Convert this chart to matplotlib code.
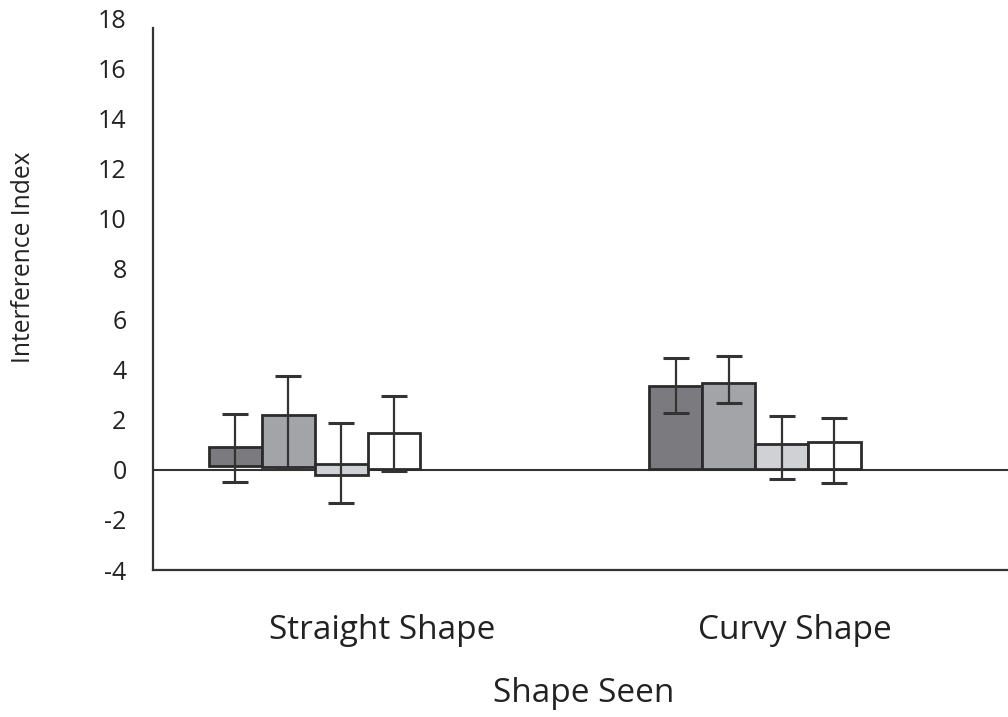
import matplotlib
matplotlib.use("Agg")
import matplotlib.pyplot as plt
import numpy as np
from matplotlib import font_manager

# ---- data ----
categories = ["Straight Shape", "Curvy Shape"]
yticks = [-4, -2, 0, 2, 4, 6, 8, 10, 12, 14, 16, 18]

s1_top = [0.92, 3.32]
s1_bottom = [0.16, 0.04]
s1_err_lo = [-0.48, 2.24]
s1_err_hi = [2.20, 4.44]

s2_top = [2.16, 3.44]
s2_bottom = [0.10, 0.04]
s2_err_lo = [0.08, 2.64]
s2_err_hi = [3.72, 4.52]

s3_top = [0.24, 1.04]
s3_bottom = [-0.20, 0.04]
s3_err_lo = [-1.32, -0.36]
s3_err_hi = [1.84, 2.12]

s4_top = [1.48, 1.12]
s4_bottom = [0.04, 0.04]
s4_err_lo = [-0.04, -0.52]
s4_err_hi = [2.92, 2.04]

series = [
    (s1_top, s1_bottom, s1_err_lo, s1_err_hi, "#7b7b7f"),
    (s2_top, s2_bottom, s2_err_lo, s2_err_hi, "#a2a4a8"),
    (s3_top, s3_bottom, s3_err_lo, s3_err_hi, "#d0d1d5"),
    (s4_top, s4_bottom, s4_err_lo, s4_err_hi, "#ffffff"),
]

# ---- fonts ----
avail = {f.name for f in font_manager.fontManager.ttflist}
main_font = "Open Sans" if "Open Sans" in avail else "DejaVu Sans"
plt.rcParams['font.family'] = [main_font, 'DejaVu Sans']

fig = plt.figure(figsize=(10.08, 7.17), dpi=100)
ax = fig.add_axes([153/1008, 1-570/717, 1-153/1008, (570-18)/717])

group_x = np.arange(len(categories))
w = 0.12
offsets = np.array([-1.5, -0.5, 0.5, 1.5]) * w
edge = "#2b2b2b"

for (top, bottom, lo, hi, col), off in zip(series, offsets):
    top = np.array(top); bottom = np.array(bottom)
    lo = np.array(lo); hi = np.array(hi)
    x = group_x + off
    ax.bar(x, top - bottom, bottom=bottom, width=w, color=col,
           edgecolor=edge, linewidth=2.0, zorder=3)
    ax.errorbar(x, top, yerr=[top - lo, hi - top], fmt='none',
                ecolor="#333333", elinewidth=1.6, capsize=9.5,
                capthick=2.2, zorder=4)

ax.axhline(0, color="#333333", lw=1.5, zorder=2)

ax.set_ylim(-4, 18)
ax.set_xlim(-0.367, 1.574)
ax.set_yticks(yticks)
ax.set_yticklabels([str(t) for t in yticks], fontsize=18, color="#222222")
ax.tick_params(axis='y', length=0, pad=19)

label_pos = [0.153, 1.091]
ax.set_xticks(label_pos)
ax.set_xticklabels(categories, fontsize=24, color="#222222")
ax.tick_params(axis='x', length=0, pad=31.5)

for s in ['top', 'right']:
    ax.spines[s].set_visible(False)
for s in ['left', 'bottom']:
    ax.spines[s].set_linewidth(1.6)
    ax.spines[s].set_color("#333333")
ax.spines['left'].set_bounds(-4, 17.6)

fig.text(584/1008, 1-693/717, "Shape Seen", ha='center', va='center',
         fontsize=24, color="#222222")
fig.text(24/1008, 1-257/717, "Interference Index", ha='center', va='center',
         rotation=90, fontsize=17.7, color="#222222")

fig.savefig("out.png", dpi=100)
